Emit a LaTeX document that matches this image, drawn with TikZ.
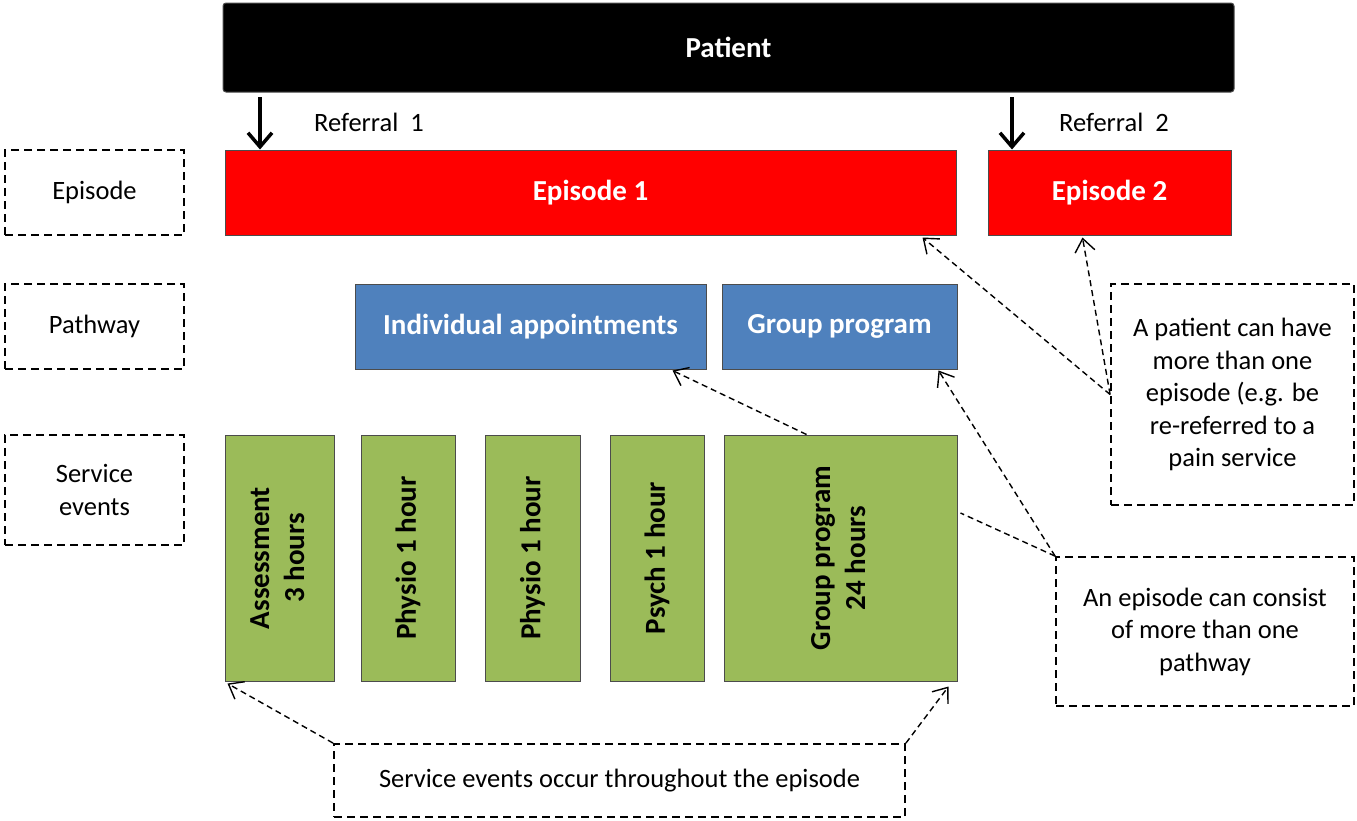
\documentclass[tikz,border=0pt]{standalone}
\usepackage{fontspec}
\usepackage{graphicx}
\setmainfont{Carlito}
\usetikzlibrary{arrows.meta}
\definecolor{epired}{HTML}{FF0000}
\definecolor{pathblue}{HTML}{4F81BD}
\definecolor{evgreen}{HTML}{9BBB59}
\newcommand{\bigbf}{\fontsize{29}{35}\selectfont\bfseries}
\newcommand{\plain}{\fontsize{26.5}{32.5}\selectfont}
\tikzset{
  box/.style={draw=black!70, line width=1pt, inner sep=0pt, align=center, font=\bigbf},
  dbox/.style={draw, dash pattern=on 8pt off 5pt, line width=1.8pt, inner sep=0pt, align=center, font=\plain},
  hint/.style={dash pattern=on 6pt off 4pt, line width=1.4pt, -{Straight Barb[length=13pt,width=20pt,line width=1.4pt]}},
  refer/.style={line width=3.5pt, -{Straight Barb[length=14pt,width=24pt,line width=3.5pt]}}
}

\begin{document}
\begin{tikzpicture}[x=1pt,y=-1pt]
  \useasboundingbox (0,0) rectangle (1357,820);

  \node[box, fill=black, text=white, rounded corners=3pt, minimum width=1011pt, minimum height=89pt] (patient) at (728.5,47.5) {Patient};

  % episodes
  \node[box, fill=epired, text=white, minimum width=731pt, minimum height=85pt] (ep1) at (590.5,192.5) {Episode 1};
  \node[box, fill=epired, text=white, minimum width=243pt, minimum height=85pt] (ep2) at (1109.5,192.5) {Episode 2};

  \coordinate (r1) at (260,97);
  \coordinate (r2) at (1012,97);
  \draw[refer] (r1) -- (r1 |- ep1.north);
  \draw[refer] (r2) -- (r2 |- ep2.north);
  \node[font=\plain] (ref1) at (369,122) {Referral~~1};
  \node[font=\plain] (ref2) at (1114,122) {Referral~~2};

  % row labels
  \node[dbox, minimum width=179pt, minimum height=85pt] (lep) at (94.5,192.5) {Episode};
  \node[dbox, minimum width=179pt, minimum height=85pt] (lpath) at (94.5,326.5) {Pathway};
  \node[dbox, minimum width=179pt, minimum height=110pt] (lserv) at (94.5,490) {Service\\events};

  % pathways
  \node[box, fill=pathblue, text=white, minimum width=351pt, minimum height=85pt] (indiv) at (530.5,326.5) {Individual appointments};
  \node[box, fill=pathblue, text=white, minimum width=235pt, minimum height=85pt] (grouppw) at (839.5,326.5) {Group program};

  % service events
  \node[box, fill=evgreen, minimum width=109pt, minimum height=246pt] (assess) at (279.5,558) {\rotatebox{90}{\begin{tabular}{@{}c@{}}Assessment\\3 hours\end{tabular}}};
  \node[box, fill=evgreen, minimum width=94pt, minimum height=246pt] (phys1) at (408,558) {\rotatebox{90}{Physio 1 hour}};
  \node[box, fill=evgreen, minimum width=95pt, minimum height=246pt] (phys2) at (532.5,558) {\rotatebox{90}{Physio 1 hour}};
  \node[box, fill=evgreen, minimum width=94pt, minimum height=246pt] (psych) at (657,558) {\rotatebox{90}{Psych 1 hour}};
  \node[box, fill=evgreen, minimum width=233pt, minimum height=246pt] (groupev) at (840.5,558) {\rotatebox{90}{\begin{tabular}{@{}c@{}}Group program\\24 hours\end{tabular}}};

  % notes
  \node[dbox, minimum width=243pt, minimum height=221pt] (note1) at (1232.5,394.5) {A patient can have\\more than one\\episode (e.g. be\\re-referred to a\\pain service};
  \node[dbox, minimum width=298pt, minimum height=149pt] (note2) at (1205,631.5) {An episode can consist\\of more than one\\pathway};
  \node[dbox, minimum width=571pt, minimum height=73pt] (note3) at (619.5,780.5) {Service events occur throughout the episode};

  \draw[hint] (note1.west) -- ([xshift=-34pt,yshift=-2pt]ep1.south east);
  \draw[hint] (note1.west) -- ([xshift=-27pt,yshift=-2pt]ep2.south);
  \draw[hint] (groupev.north) ++(-34pt,0) -- ([xshift=-34pt,yshift=-1pt]indiv.south east);
  \draw[hint] (note2.north west) -- ([xshift=-19pt,yshift=-1pt]grouppw.south east);
  \draw (note2.north west) [dash pattern=on 6pt off 4pt, line width=1.4pt] -- ([xshift=3pt,yshift=45pt]groupev.east);
  \draw[hint] (note3.north west) -- ([xshift=3pt,yshift=-2pt]assess.south west);
  \draw[hint] (note3.north east) -- ([xshift=-9pt,yshift=-5pt]groupev.south east);
\end{tikzpicture}
\end{document}
